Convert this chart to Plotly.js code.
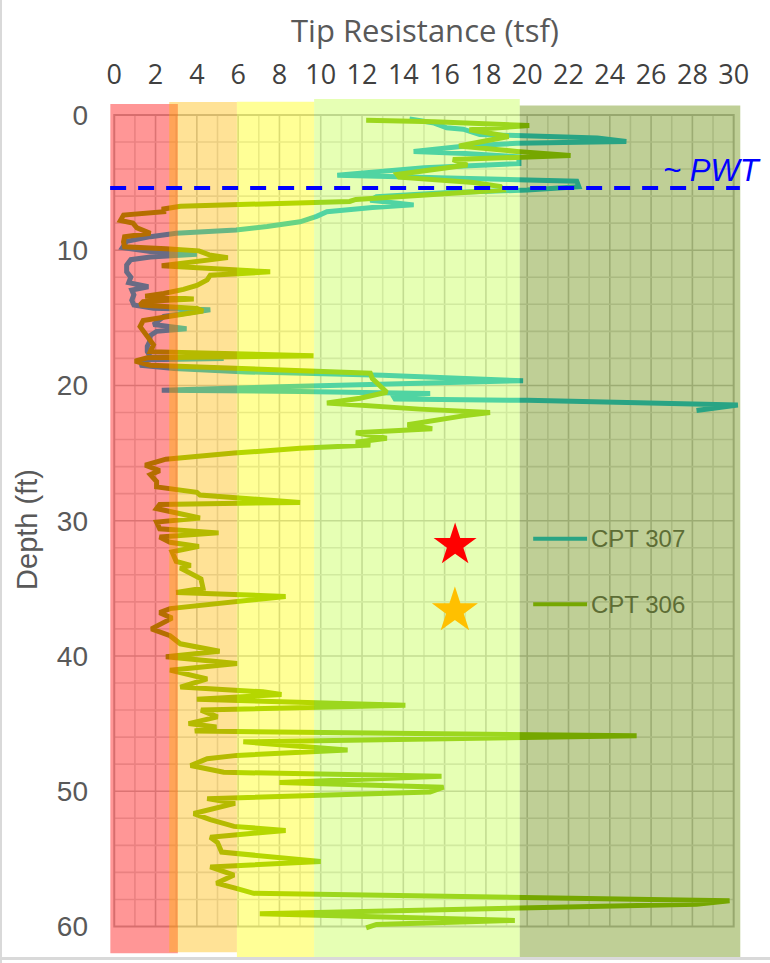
<!DOCTYPE html>
<html><head><meta charset="utf-8">
<script src="https://cdn.plot.ly/plotly-3.0.1.min.js"></script>
<style>html,body{margin:0;padding:0;background:#fff;overflow:hidden;} #chart{width:770px;height:963px;}</style>
</head><body><div id="chart"></div>
<script>
// ---- data ----
const seriesNames = ['CPT 307', 'CPT 306'];
const cpt307Tsf = [14.3,15.5,16.1,16.9,17.7,23.4,24.8,19.5,17.0,14.5,17.0,19.6,19.6,15.0,10.8,15.0,19.5,22.4,22.5,20.0,16.0,12.7,12.4,14.5,12.5,10.3,9.8,9.0,7.4,5.9,3.0,1.75,0.6,0.4,1.75,4.0,1.75,0.8,0.6,0.6,0.8,0.7,1.65,0.85,0.95,0.85,0.95,1.9,4.65,3.0,2.4,2.15,1.9,3.5,2.05,1.75,1.7,1.6,1.6,1.75,5.3,1.6,1.25,2.9,6.4,13.0,19.8,8.0,2.3,9.0,15.3,13.5,13.6,20.0,30.2,28.2];
const cpt307Depth = [0.30,0.60,0.95,1.05,1.45,1.70,1.97,2.10,2.30,2.70,2.85,3.10,3.60,3.90,4.45,4.60,4.75,4.90,5.30,5.55,5.75,6.05,6.30,6.65,6.85,7.15,7.50,7.90,8.25,8.50,8.75,9.00,9.35,9.80,10.10,10.30,10.50,10.70,11.10,11.60,12.00,12.40,12.70,12.95,13.30,13.70,14.05,14.30,14.40,14.70,14.90,15.20,15.50,15.80,16.00,16.30,16.80,17.10,17.50,17.90,18.00,18.10,18.50,18.75,19.00,19.25,19.65,20.10,20.35,20.45,20.60,20.75,21.00,21.10,21.45,21.85];
const cpt306Tsf = [12.2,15.5,20.1,17.2,19.1,16.7,19.5,22.1,16.4,17.1,13.7,13.8,17.4,18.7,18.8,11.7,11.4,3.2,2.4,2.4,0.45,0.3,0.9,1.1,1.75,0.5,0.45,0.5,2.5,4.1,4.6,5.5,2.3,7.55,4.65,4.5,4.0,3.35,2.4,1.5,3.85,1.4,1.25,4.0,4.3,3.2,1.4,1.25,1.4,1.6,1.9,1.75,9.65,1.6,1.0,1.75,6.4,12.4,12.5,13.2,11.9,10.3,14.8,18.2,16.9,14.2,15.4,11.7,13.2,11.7,12.4,9.0,5.8,3.2,2.5,1.5,2.2,1.75,2.05,2.05,4.0,4.15,9.0,2.2,2.05,4.15,2.05,2.2,5.05,2.2,2.7,4.1,2.8,3.0,3.7,3.2,4.2,4.3,3.0,8.3,5.0,2.7,2.2,2.8,1.8,2.7,3.2,5.1,2.5,5.95,2.7,4.5,3.2,7.2,8.1,4.0,14.1,4.2,5.0,3.6,4.95,3.9,25.3,6.25,11.3,5.95,4.5,3.7,5.3,15.85,8.0,15.95,15.3,4.5,5.85,3.85,4.65,5.8,8.3,4.65,5.0,5.2,10.0,4.65,5.8,4.95,5.95,6.75,29.8,28.2,7.05,19.4,12.7,12.2];
const cpt306Depth = [0.40,0.50,0.78,1.10,1.60,2.30,2.70,3.00,3.30,3.70,4.40,4.60,5.00,5.30,5.55,6.25,6.40,6.75,6.95,7.15,7.40,7.80,8.00,8.35,8.75,9.00,9.40,9.75,9.90,10.05,10.35,10.55,11.15,11.60,11.85,12.20,12.60,12.90,13.20,13.40,13.60,13.80,14.05,14.30,14.50,14.80,15.20,15.65,16.00,16.40,17.00,17.50,17.80,17.95,18.20,18.50,18.75,19.10,19.50,20.50,20.95,21.30,21.75,22.00,22.25,22.90,23.20,23.50,23.90,24.20,24.40,24.65,25.00,25.30,25.45,25.90,26.30,26.60,27.10,27.50,27.90,28.10,28.65,28.80,29.10,29.80,30.10,30.60,30.90,31.20,31.60,31.90,32.30,33.00,33.30,33.50,34.30,35.00,35.30,35.60,36.10,36.50,36.80,37.20,38.00,38.50,39.10,39.65,40.05,40.55,41.05,41.70,42.30,42.65,42.85,43.20,43.65,44.00,44.50,45.00,45.25,45.55,45.90,46.35,46.95,47.35,47.60,48.10,48.60,48.90,49.35,49.70,50.05,50.55,50.90,51.65,52.10,52.60,52.90,53.40,53.80,54.50,55.20,55.60,56.20,56.80,57.20,57.55,58.10,58.35,59.05,59.55,59.85,60.10];
const xTickVals = [0,2,4,6,8,10,12,14,16,18,20,22,24,26,28,30];
const yTickVals = [0,10,20,30,40,50,60];
const pwtDepth = 5.4;
const pwtLabel = '~ PWT';
const starTsf = [16.5, 16.5];
const starDepth = [31.7, 36.5];
const starColors = ['#FF0000', '#FFC000'];
// resistance zones (tsf limits) and their colours
const zoneFrom = [-0.19, 2.66, 5.94, 9.68, 19.64];
const zoneTo   = [3.08, 5.94, 9.68, 19.64, 30.32];
const zoneTop  = [-0.81, -0.96, -0.98, -1.18, -0.69];
const zoneBot  = [61.98, 61.9, 62.35, 62.35, 62.25];
const zoneRGB  = ['255,0,0', '255,185,0', '255,255,0', '194,255,72', '99,138,0'];

// ---- styling ----
const lineColors = ['#00B6E1', '#82BB00'];
const zoneAlpha = 0.41;

const traces = [
  {x: cpt307Tsf, y: cpt307Depth, name: seriesNames[0], mode: 'lines', line: {color: lineColors[0], width: 5}, showlegend: false, hoverinfo: 'skip'},
  {x: cpt306Tsf, y: cpt306Depth, name: seriesNames[1], mode: 'lines', line: {color: lineColors[1], width: 5}, showlegend: false, hoverinfo: 'skip'}
];

const shapes = [];
// grid lines (inside frame only)
for (let v = 1; v < 30; v++) {
  shapes.push({type: 'line', layer: 'below', xref: 'x', yref: 'y', x0: v, x1: v, y0: 0, y1: 60,
    line: {color: v % 2 === 0 ? '#c4c4c4' : '#dcdcdc', width: 1.6}});
}
for (let d = 2; d < 60; d += 2) {
  shapes.push({type: 'line', layer: 'below', xref: 'x', yref: 'y', x0: 0, x1: 30, y0: d, y1: d,
    line: {color: d % 10 === 0 ? '#c4c4c4' : '#dcdcdc', width: 1.6}});
}
shapes.push({type: 'rect', layer: 'below', xref: 'x', yref: 'y', x0: 0, x1: 30, y0: 0, y1: 60,
  line: {color: '#bcbcbc', width: 2}, fillcolor: 'rgba(0,0,0,0)'});
// legend keys (under the zones so they are tinted like the original)
const legendDepth = [31.34, 36.17];
for (let i = 0; i < 2; i++) {
  shapes.push({type: 'line', layer: 'above', xref: 'x', yref: 'y', x0: 20.29, x1: 22.9, y0: legendDepth[i], y1: legendDepth[i],
    line: {color: lineColors[i], width: 4}});
}
// zones
for (let i = 0; i < zoneFrom.length; i++) {
  shapes.push({type: 'rect', layer: 'above', xref: 'x', yref: 'y', x0: zoneFrom[i], x1: zoneTo[i], y0: zoneTop[i], y1: zoneBot[i],
    line: {width: 0}, fillcolor: 'rgba(' + zoneRGB[i] + ',' + zoneAlpha + ')'});
}
// PWT line
shapes.push({type: 'line', layer: 'above', xref: 'x', yref: 'y', x0: -0.2, x1: 30.3, y0: pwtDepth, y1: pwtDepth,
  line: {color: '#0000FF', width: 4, dash: '16px,12px'}});
// chart border (left & bottom)
shapes.push({type: 'line', layer: 'above', xref: 'paper', yref: 'paper', x0: -106/638, x1: 664/638, y0: 4.5/867, y1: 4.5/867,
  line: {color: '#d9d9d9', width: 3}});
shapes.push({type: 'line', layer: 'above', xref: 'paper', yref: 'paper', x0: -105/638, x1: -105/638, y0: 0, y1: 1.2,
  line: {color: '#d9d9d9', width: 2}});

const annotations = [];
for (let i = 0; i < starTsf.length; i++) {
  annotations.push({x: starTsf[i], y: starDepth[i], xref: 'x', yref: 'y', text: '★', showarrow: false,
    xanchor: 'center', yanchor: 'middle', font: {family: 'DejaVu Sans', size: i === 0 ? 56 : 60, color: starColors[i]}});
}
for (let i = 0; i < 2; i++) {
  annotations.push({x: 23.0, y: legendDepth[i], xref: 'x', yref: 'y', text: seriesNames[i], showarrow: false,
    xanchor: 'left', yanchor: 'middle', font: {family: 'Liberation Sans', size: 24, color: '#5D6D35'}});
}
annotations.push({x: 26.5, y: 4.1, xref: 'x', yref: 'y', text: '<i>' + pwtLabel + '</i>', showarrow: false,
  xanchor: 'left', yanchor: 'middle', font: {family: 'Liberation Sans', size: 31, color: '#0000FF'}});

const layout = {
  width: 770, height: 963,
  margin: {l: 106, r: 26, t: 96, b: 0, pad: 0},
  paper_bgcolor: '#ffffff', plot_bgcolor: '#ffffff',
  showlegend: false,
  xaxis: {
    side: 'top', range: [-0.4, 30.5], autorange: false,
    tickmode: 'array', tickvals: xTickVals, ticktext: xTickVals.map(String),
    showgrid: false, zeroline: false, showline: false, ticks: '',
    ticklabelstandoff: 6,
    tickfont: {family: 'Open Sans', size: 27, color: '#404040'},
    title: {text: 'Tip Resistance (tsf)', font: {family: 'Open Sans', size: 31, color: '#595959'}, standoff: 2},
    fixedrange: true
  },
  yaxis: {
    range: [62.7, -1.4], autorange: false,
    tickmode: 'array', tickvals: yTickVals, ticktext: yTickVals.map(String),
    showgrid: false, zeroline: false, showline: false, ticks: '',
    ticklabelstandoff: 17,
    tickfont: {family: 'Liberation Sans', size: 28, color: '#595959'},
    title: {text: 'Depth (ft)', font: {family: 'Liberation Sans', size: 29, color: '#595959'}, standoff: 10},
    fixedrange: true
  },
  shapes: shapes,
  annotations: annotations
};

Plotly.newPlot('chart', traces, layout, {displayModeBar: false, staticPlot: true});
</script>
</body></html>
